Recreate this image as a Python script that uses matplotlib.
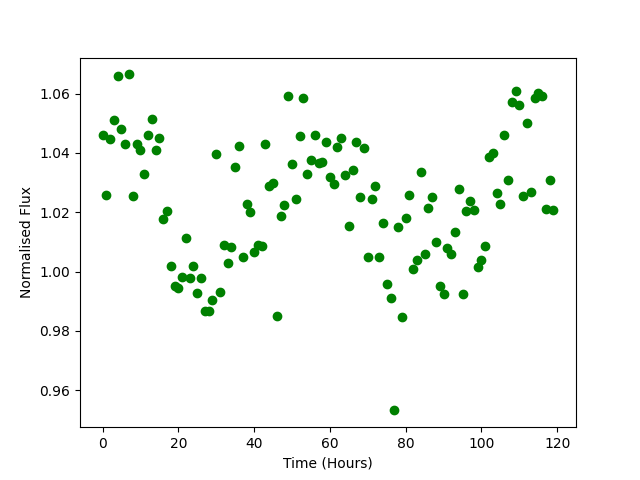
import matplotlib
matplotlib.use("Agg")
import matplotlib.pyplot as plt
import numpy as np

time_hours = np.arange(120)
flux = [
    1.0461, 1.026, 1.0447, 1.051, 1.066, 1.048, 1.043, 1.0665, 1.0255, 1.043,
    1.041, 1.033, 1.046, 1.0515, 1.041, 1.045, 1.0177, 1.0205, 1.002, 0.995,
    0.9945, 0.9983, 1.0115, 0.9978, 1.002, 0.9927, 0.998, 0.9867, 0.9867, 0.9905,
    1.0397, 0.9932, 1.009, 1.003, 1.0083, 1.0352, 1.0424, 1.005, 1.0228, 1.020,
    1.0065, 1.009, 1.0085, 1.043, 1.0288, 1.0298, 0.985, 1.0187, 1.0224, 1.0593,
    1.0362, 1.0244, 1.0457, 1.0586, 1.033, 1.0375, 1.046, 1.0366, 1.037, 1.0438,
    1.032, 1.0295, 1.042, 1.0452, 1.0326, 1.0153, 1.0343, 1.0437, 1.025, 1.0417,
    1.005, 1.0244, 1.0288, 1.005, 1.0163, 0.9957, 0.991, 0.9532, 1.015, 0.9846,
    1.018, 1.0258, 1.001, 1.0038, 1.0335, 1.006, 1.0214, 1.025, 1.010, 0.995,
    0.9923, 1.008, 1.006, 1.0135, 1.028, 0.9926, 1.0204, 1.0237, 1.0207, 1.0014,
    1.0038, 1.0085, 1.0386, 1.040, 1.0264, 1.0227, 1.046, 1.031, 1.0572, 1.061,
    1.0562, 1.0254, 1.050, 1.027, 1.0585, 1.0603, 1.0593, 1.021, 1.031, 1.0207,
]

fig = plt.figure(figsize=(6.4, 4.8), dpi=100)
plt.plot(time_hours, flux, 'o', color='green')
plt.xlabel('Time (Hours)')
plt.ylabel('Normalised Flux')
plt.savefig('out.png', dpi=100)
